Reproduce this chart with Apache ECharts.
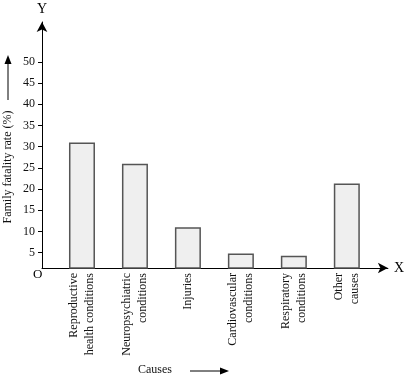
<!DOCTYPE html>
<html><head><meta charset="utf-8">
<script src="https://cdn.jsdelivr.net/npm/echarts@6/dist/echarts.min.js"></script>
<style>html,body{margin:0;padding:0;background:#fff}#c{width:407px;height:379px}</style>
</head><body><div id="c"></div>
<script>
var categories = ['Reproductive\nhealth conditions', 'Neuropsychiatric\nconditions', 'Injuries', 'Cardiovascular\nconditions', 'Respiratory\nconditions', 'Other\ncauses'];
var values = [31, 26, 11, 4.8, 4.3, 21.3];
var yTicks = [5, 10, 15, 20, 25, 30, 35, 40, 45, 50];
var FONT = '"Liberation Serif", "DejaVu Serif", serif';
var chart = echarts.init(document.getElementById('c'));
var yMin = 1.4, yMax = 59.4;
chart.setOption({
  animation: false,
  backgroundColor: '#fff',
  grid: [
    {left: 42, right: 18, top: 22, bottom: 111},
    {left: 55.5, right: 33.7, top: 22, bottom: 111}
  ],
  xAxis: [
    {gridIndex: 0, type: 'value', min: 0, max: 1,
     axisLine: {show: true, symbol: ['none', 'arrow'], symbolSize: [8, 10], lineStyle: {color: '#000', width: 1}},
     axisTick: {show: false}, axisLabel: {show: false}, splitLine: {show: false},
     name: 'X', nameLocation: 'end', nameGap: 6,
     nameTextStyle: {fontFamily: FONT, fontSize: 14, color: '#000', verticalAlign: 'middle'}},
    {gridIndex: 1, type: 'category', data: categories,
     axisLine: {show: false}, axisTick: {show: false},
     axisLabel: {interval: 0, rotate: 90, margin: 5, fontFamily: FONT, fontSize: 12, color: '#111', lineHeight: 16}}
  ],
  yAxis: [
    {gridIndex: 0, type: 'value', min: yMin, max: yMax,
     axisLine: {show: true, symbol: ['none', 'arrow'], symbolSize: [8, 10], lineStyle: {color: '#000', width: 1}},
     axisTick: {show: true, length: 4, customValues: yTicks, lineStyle: {color: '#000'}},
     axisLabel: {customValues: yTicks, margin: 7, fontFamily: FONT, fontSize: 12, color: '#111'},
     splitLine: {show: false},
     name: 'Y', nameLocation: 'end', nameGap: 6,
     nameTextStyle: {fontFamily: FONT, fontSize: 14, color: '#000', align: 'center'}},
    {gridIndex: 1, type: 'value', min: yMin, max: yMax, show: false, splitLine: {show: false}}
  ],
  series: [{
    type: 'bar', xAxisIndex: 1, yAxisIndex: 1, data: values, barWidth: 26,
    itemStyle: {color: '#efefef', borderColor: '#555', borderWidth: 1.5}
  }],
  graphic: [
    {type: 'text', left: 33, top: 268, style: {text: 'O', font: '13px ' + FONT, fill: '#000'}},
    {type: 'text', x: 8, y: 167, rotation: Math.PI / 2,
     style: {text: 'Family fatality rate (%)', font: '12px ' + FONT, fill: '#111', align: 'center', verticalAlign: 'middle'}},
    {type: 'line', shape: {x1: 8, y1: 100, x2: 8, y2: 62}, style: {stroke: '#000', lineWidth: 1}},
    {type: 'polygon', shape: {points: [[8, 55], [4.5, 64], [11.5, 64]]}, style: {fill: '#000'}},
    {type: 'text', left: 138, top: 364, style: {text: 'Causes', font: '12px ' + FONT, fill: '#111'}},
    {type: 'line', shape: {x1: 190, y1: 371, x2: 222, y2: 371}, style: {stroke: '#000', lineWidth: 1}},
    {type: 'polygon', shape: {points: [[229, 371], [220, 367.5], [220, 374.5]]}, style: {fill: '#000'}}
  ]
});
</script></body></html>
